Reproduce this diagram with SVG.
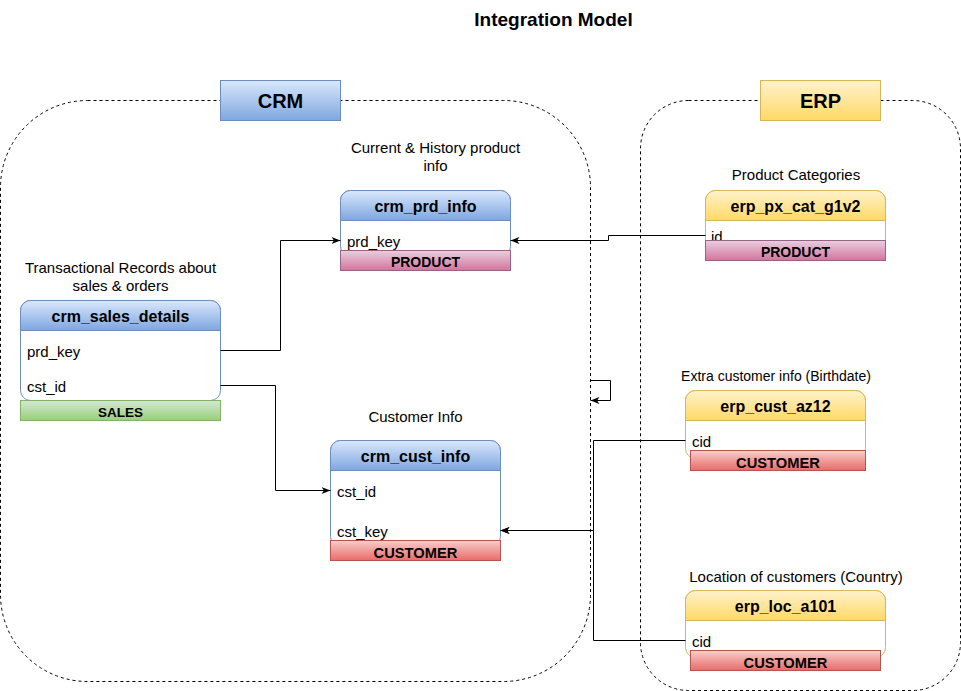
<svg xmlns="http://www.w3.org/2000/svg" width="961" height="691" viewBox="0 0 961 691">
<style>
text{font-family:"Liberation Sans",Arial,sans-serif;fill:#000}
.title{font-size:19px;font-weight:bold}
.grp{font-size:20px;font-weight:bold}
.lbl{font-size:15px}
.hdr{font-size:16px;font-weight:bold}
.fld{font-size:15px}
.bar{font-size:14px;font-weight:bold}
.cont{fill:none;stroke:#000;stroke-width:1;stroke-dasharray:3 3}
.blue{stroke:#6c8ebf;stroke-width:1}
.yel{stroke:#d6b656;stroke-width:1}
.body{fill:#fff}
.edge{fill:none;stroke:#000;stroke-width:1}
</style>
<defs>
<linearGradient id="gBlue" x1="0" y1="0" x2="0" y2="1"><stop offset="0" stop-color="#dae8fc"/><stop offset="1" stop-color="#7ea6e0"/></linearGradient>
<linearGradient id="gYel" x1="0" y1="0" x2="0" y2="1"><stop offset="0" stop-color="#fff2cc"/><stop offset="1" stop-color="#ffd966"/></linearGradient>
<linearGradient id="gPink" x1="0" y1="0" x2="0" y2="1"><stop offset="0" stop-color="#e6d0de"/><stop offset="1" stop-color="#d5739d"/></linearGradient>
<linearGradient id="gRed" x1="0" y1="0" x2="0" y2="1"><stop offset="0" stop-color="#f8cecc"/><stop offset="1" stop-color="#ea6b66"/></linearGradient>
<linearGradient id="gGreen" x1="0" y1="0" x2="0" y2="1"><stop offset="0" stop-color="#d5e8d4"/><stop offset="1" stop-color="#97d077"/></linearGradient>
<marker id="arr" markerUnits="userSpaceOnUse" markerWidth="10" markerHeight="8" refX="9" refY="3.5" orient="auto">
<path d="M0,0 L9,3.5 L0,7 L2.5,3.5 Z" fill="#000"/>
</marker>
</defs>
<rect width="961" height="691" fill="#fff"/>
<text class="title" x="553.5" y="26" text-anchor="middle">Integration Model</text>

<g id="crm-container">
<rect class="cont" x="0.5" y="100.5" width="590" height="581" rx="87" ry="87"/>
<rect x="220.5" y="80.5" width="120" height="40" fill="url(#gBlue)" class="blue"/>
<text class="grp" x="280.5" y="108" text-anchor="middle">CRM</text>
</g>
<g id="erp-container">
<rect class="cont" x="640.5" y="100.5" width="320" height="590" rx="48" ry="48"/>
<rect x="760.5" y="80.5" width="120" height="40" fill="url(#gYel)" class="yel"/>
<text class="grp" x="820.5" y="108" text-anchor="middle">ERP</text>
</g>

<g id="crm_prd_info">
<text class="lbl" x="435.5" y="153" text-anchor="middle">Current &amp; History product</text>
<text class="lbl" x="435.5" y="171" text-anchor="middle">info</text>
<rect class="blue body" x="340.5" y="190.5" width="170" height="66" rx="10"/>
<path class="blue" fill="url(#gBlue)" d="M340.5,220.5 V200.5 A10,10 0 0 1 350.5,190.5 H500.5 A10,10 0 0 1 510.5,200.5 V220.5 Z"/>
<text class="hdr" x="425.5" y="211.5" text-anchor="middle">crm_prd_info</text>
<text class="fld" x="347" y="247">prd_key</text>
<rect x="340.5" y="250.5" width="170" height="20" fill="url(#gPink)" stroke="#996185"/>
<text class="bar" x="425.5" y="266.5" text-anchor="middle">PRODUCT</text>
</g>

<g id="crm_sales_details">
<text class="lbl" x="120.5" y="272.5" text-anchor="middle">Transactional Records about</text>
<text class="lbl" x="120.5" y="290.5" text-anchor="middle">sales &amp; orders</text>
<rect class="blue body" x="20.5" y="300.5" width="200" height="100" rx="10"/>
<path class="blue" fill="url(#gBlue)" d="M20.5,330.5 V310.5 A10,10 0 0 1 30.5,300.5 H210.5 A10,10 0 0 1 220.5,310.5 V330.5 Z"/>
<text class="hdr" x="120.5" y="321.5" text-anchor="middle">crm_sales_details</text>
<text class="fld" x="27" y="357">prd_key</text>
<text class="fld" x="27" y="392">cst_id</text>
<rect x="20.5" y="400.5" width="200" height="20" fill="url(#gGreen)" stroke="#82b366"/>
<text class="bar" x="120.5" y="416.5" text-anchor="middle" style="font-size:13.5px">SALES</text>
</g>

<g id="crm_cust_info">
<text class="lbl" x="415.5" y="422" text-anchor="middle">Customer Info</text>
<rect class="blue body" x="330.5" y="440.5" width="170" height="106" rx="10"/>
<path class="blue" fill="url(#gBlue)" d="M330.5,470.5 V450.5 A10,10 0 0 1 340.5,440.5 H490.5 A10,10 0 0 1 500.5,450.5 V470.5 Z"/>
<text class="hdr" x="415.5" y="461.5" text-anchor="middle">crm_cust_info</text>
<text class="fld" x="337" y="497">cst_id</text>
<text class="fld" x="337" y="537">cst_key</text>
<rect x="330.5" y="540.5" width="170" height="20" fill="url(#gRed)" stroke="#b85450"/>
<text class="bar" x="415.5" y="557.5" text-anchor="middle" style="font-size:14.7px">CUSTOMER</text>
</g>

<g id="erp_px_cat_g1v2">
<text class="lbl" x="796" y="180" text-anchor="middle">Product Categories</text>
<rect class="yel body" x="705.5" y="190.5" width="180" height="60" rx="10"/>
<path class="yel" fill="url(#gYel)" d="M705.5,220.5 V200.5 A10,10 0 0 1 715.5,190.5 H875.5 A10,10 0 0 1 885.5,200.5 V220.5 Z"/>
<text class="hdr" x="795.5" y="211.5" text-anchor="middle">erp_px_cat_g1v2</text>
<text class="fld" x="711" y="242">id</text>
<rect x="705.5" y="240.5" width="180" height="20" fill="url(#gPink)" stroke="#996185"/>
<text class="bar" x="795.5" y="256.5" text-anchor="middle">PRODUCT</text>
</g>

<g id="erp_cust_az12">
<text class="lbl" x="776" y="380.5" text-anchor="middle" style="font-size:14px">Extra customer info (Birthdate)</text>
<rect class="yel body" x="685.5" y="390.5" width="180" height="68" rx="10"/>
<path class="yel" fill="url(#gYel)" d="M685.5,420.5 V400.5 A10,10 0 0 1 695.5,390.5 H855.5 A10,10 0 0 1 865.5,400.5 V420.5 Z"/>
<text class="hdr" x="775.5" y="411.5" text-anchor="middle">erp_cust_az12</text>
<text class="fld" x="692" y="447">cid</text>
<rect x="690.5" y="450.5" width="175" height="20" fill="url(#gRed)" stroke="#b85450"/>
<text class="bar" x="778" y="467.5" text-anchor="middle" style="font-size:14.7px">CUSTOMER</text>
</g>

<g id="erp_loc_a101">
<text class="lbl" x="796" y="581.5" text-anchor="middle">Location of customers (Country)</text>
<rect class="yel body" x="685.5" y="590.5" width="200" height="67" rx="10"/>
<path class="yel" fill="url(#gYel)" d="M685.5,620.5 V600.5 A10,10 0 0 1 695.5,590.5 H875.5 A10,10 0 0 1 885.5,600.5 V620.5 Z"/>
<text class="hdr" x="785.5" y="611.5" text-anchor="middle">erp_loc_a101</text>
<text class="fld" x="692" y="647">cid</text>
<rect x="690.5" y="650.5" width="190" height="20" fill="url(#gRed)" stroke="#b85450"/>
<text class="bar" x="785.5" y="667.5" text-anchor="middle" style="font-size:14.7px">CUSTOMER</text>
</g>

<g id="connectors">
<path class="edge" marker-end="url(#arr)" d="M220.5,350.5 H280.5 V240.5 H340.5"/>
<path class="edge" marker-end="url(#arr)" d="M220.5,385.5 H275.5 V490.5 H330.5"/>
<path class="edge" marker-end="url(#arr)" d="M705.5,235.5 H608.5 V240.5 H510.5"/>
<path class="edge" marker-end="url(#arr)" d="M685.5,440.5 H593.5 V530.5 H500.5"/>
<path class="edge" marker-end="url(#arr)" d="M685.5,640.5 H593.5 V530.5 H500.5"/>
<path class="edge" marker-end="url(#arr)" d="M590.5,380.5 H610.5 V400.5 H590.5"/>
</g>
</svg>
